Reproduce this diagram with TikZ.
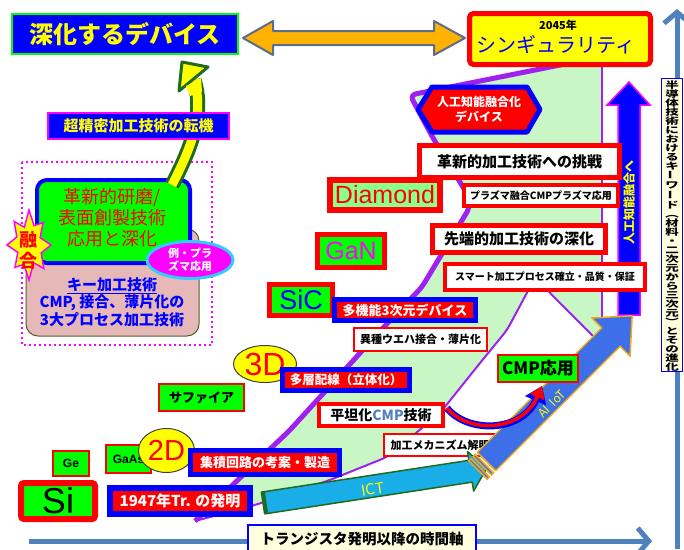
\documentclass[tikz,border=0pt]{standalone}
\usepackage{fontspec}
\usepackage{graphicx}
\setmainfont{Noto Sans CJK JP}
\newfontfamily\arialf{Liberation Sans}
\usetikzlibrary{arrows.meta,shapes.geometric}
\definecolor{pblue}{HTML}{0000FF}
\definecolor{pred}{HTML}{FF0000}
\definecolor{plime}{HTML}{00FF00}
\definecolor{pyellow}{HTML}{FFFF00}
\definecolor{bandgreen}{HTML}{C8F7C5}
\definecolor{bandpurple}{HTML}{A020F0}
\definecolor{axisblue}{HTML}{4F81BD}
\definecolor{orangearr}{HTML}{FFB300}
\definecolor{slate}{HTML}{5A6E8C}
\definecolor{ictcyan}{HTML}{1AAEE8}
\definecolor{dkgreen}{HTML}{1E6B1E}
\definecolor{aiblue}{HTML}{3D6FE8}
\definecolor{aiorange}{HTML}{F2A81D}
\definecolor{pinkbox}{HTML}{E6B9B8}
\definecolor{olivebd}{HTML}{4F6228}
\definecolor{cyanb}{HTML}{33CCFF}
\definecolor{lightyel}{HTML}{FFFFE0}
\definecolor{diamondgreen}{HTML}{8CFF8C}
\definecolor{pmag}{HTML}{FF00FF}
\tikzset{
  lbl/.style={inner sep=0pt, align=center},
  fsz/.style={font=\fontsize{#1}{#1}\selectfont\bfseries},
  rw/.style={draw=pred, fill=white, inner sep=0pt, align=center, text=black},
  br/.style={draw=pblue, fill=pred, inner sep=0pt, align=center, text=white},
  rg/.style={draw=pred, fill=plime, inner sep=0pt, align=center, text=black},
  axisline/.style={axisblue, line width=5pt, -{Straight Barb[length=11pt,width=26pt]}},
  ellyel/.style={ellipse, draw=black!75, fill=pyellow, line width=1pt, inner sep=0pt, text=pred}
}
\begin{document}
\begin{tikzpicture}[x=1pt,y=-1pt]
\useasboundingbox (0,0) rectangle (684,549);
\fill[white] (0,0) rectangle (684,549);

% ---- green band ----
\fill[bandgreen, rounded corners=6pt] (195,521) -- (290,430) -- (381,330) -- (422,287) -- (470,207) -- (466,192) -- (433,138) -- (410,95) -- (600,57) -- (602,57) -- (602,338) -- (598,341) -- (547,290) -- (540,268) -- (530,287) -- (507,330) -- (480,363) -- (440,413) -- (387,457) -- (330,480) -- (255,505) -- cycle;
\draw[bandpurple, line width=5pt, line join=round, rounded corners=6pt] (195,521) -- (290,430) -- (381,330) -- (422,287) -- (470,207) -- (466,192) -- (433,138) -- (410,95) -- (600,57);
\draw[bandpurple, line width=1.5pt] (602,57) -- (602,338);
\draw[bandpurple, line width=2pt, rounded corners=6pt] (598,341) -- (547,290) -- (540,268) -- (530,287) -- (507,330) -- (480,363) -- (440,413) -- (387,457) -- (330,480) -- (255,505) -- (195,521);

% ---- axes ----
\coordinate (hx0) at (29,541); \coordinate (hx1) at (652,541);
\draw[axisline] (hx0) -- (hx1);
\coordinate (vy0) at (677,549); \coordinate (vy1) at (677,9);
\draw[axisline] (vy0) -- (vy1);

% ---- top ----
\node[draw=plime, fill=pblue, line width=2.5pt, minimum width=226pt, minimum height=40pt, inner sep=0pt, text=pyellow, fsz=24] (deep) at (125,34) {深化するデバイス};
\draw[draw=slate, fill=orangearr, line width=2pt, line join=round] (243,38) -- (273,21) -- (273,31) -- (434,31) -- (434,21) -- (465,38) -- (434,55) -- (434,45) -- (273,45) -- (273,55) -- cycle;
\node[draw=pred, fill=pyellow, line width=5pt, rounded corners=4pt, minimum width=181pt, minimum height=51pt] (sing) at (560,39) {};
\node[lbl, fsz=11] (y2045) at (558,25) {2045年};
\node[lbl, text=pblue, font=\fontsize{20}{20}\selectfont] (singt) at (556,45) {シンギュラリティ};

% ---- left cluster ----
\draw[pmag, line width=2pt, dash pattern=on 2pt off 3pt] (22,162) rectangle (212,345);
\node[draw=olivebd, fill=pinkbox, line width=1pt, rounded corners=12pt, minimum width=173pt, minimum height=107pt] (pink) at (112.5,282.5) {};
\node[lbl, text=pblue, font=\fontsize{15}{17.5}\selectfont\bfseries] (keytxt) at (112,302) {\underline{キー加工技術}\\CMP, 接合、薄片化の\\3大プロセス加工技術};
\node[draw=pblue, fill=plime, line width=4pt, rounded corners=10pt, minimum width=153pt, minimum height=83pt] (grn) at (113.5,221.5) {};
\node[lbl, text=pred, font=\fontsize{18}{21}\selectfont] (grntxt) at (112,218) {革新的研磨/\\表面創製技術\\応用と深化};
\node[ellipse, draw=cyanb, fill=pmag, line width=3pt, minimum width=86pt, minimum height=37pt, inner sep=0pt, align=center, text=white, font=\fontsize{11}{13}\selectfont\bfseries] (plas) at (190,260) {例・プラ\\ズマ応用};
\draw[draw=pmag, fill=pyellow, line width=1.5pt] (51,245) \foreach \a/\r in {22.5/0.6,45/0.95,67.5/0.55,90/1,112.5/0.6,135/0.9,157.5/0.55,180/1,202.5/0.6,225/0.95,247.5/0.55,270/1,292.5/0.6,315/0.9,337.5/0.55} { -- ({29+22*\r*cos(\a)},{245+35*\r*sin(\a)}) } -- cycle;
\node[lbl, text=pred, font=\fontsize{18}{21}\selectfont\bfseries] (yugo) at (28,250) {融\\合};

% yellow curved arrow
\coordinate (ya0) at (172,185); \coordinate (ya1) at (194,80);
\draw[dkgreen, line width=15pt] (ya0) .. controls (190,150) and (205,115) .. (ya1);
\draw[pyellow, line width=9pt] (ya0) .. controls (190,150) and (205,115) .. (ya1);
\draw[draw=dkgreen, fill=pyellow, line width=3pt, line join=round] (182,62) -- (208,67) -- (179,91) -- cycle;
\fill[pyellow] (186,86) -- (201,78) -- (202,92) -- (190,96) -- cycle;
\node[draw=pmag, fill=pblue, line width=2pt, minimum width=181pt, minimum height=26pt, inner sep=0pt, text=pyellow, fsz=15] (tenki) at (138.5,126) {超精密加工技術の転機};

% ---- vertical blue arrow ----
\draw[draw=pmag, fill=pblue, line width=1.5pt] (629,82) -- (650,105) -- (640,105) -- (640,315) -- (618,315) -- (618,105) -- (607,105) -- cycle;
\node[lbl, text=pyellow, fsz=12, rotate=90] (aiv) at (629,202) {人工知能融合へ};

% ---- hexagon ----
\draw[draw=pblue, fill=pred, line width=5pt, line join=round] (418,109.5) -- (432,87) -- (527,87) -- (540,109.5) -- (527,132) -- (432,132) -- cycle;
\node[lbl, text=white, font=\fontsize{12}{15}\selectfont\bfseries] (hex) at (479,109.5) {人工知能融合化\\デバイス};

% ---- right column boxes ----
\node[rw, line width=5pt, minimum width=200pt, minimum height=32pt, fsz=15] (kakushin) at (519.5,161.5) {革新的加工技術への挑戦};
\node[rw, line width=4pt, minimum width=154pt, minimum height=21pt, fsz=10] (plasma) at (541,195.5) {プラズマ融合CMPプラズマ応用};
\node[draw=pred, fill=diamondgreen, line width=6pt, minimum width=110pt, minimum height=30pt, inner sep=0pt, text=pred, font=\arialf\fontsize{25}{25}\selectfont] (diam) at (385,195) {Diamond};
\node[rw, line width=5pt, minimum width=173pt, minimum height=27pt, fsz=15] (sentan) at (519,239) {先端的加工技術の深化};
\node[rw, line width=4pt, minimum width=200pt, minimum height=26pt, fsz=10] (smart) at (545,277) {スマート加工プロセス確立・品質・保証};
\node[rg, line width=5pt, minimum width=67pt, minimum height=33pt, text=pmag, font=\arialf\fontsize{25}{25}\selectfont] (gan) at (351,251) {GaN};
\node[rg, line width=5pt, minimum width=63pt, minimum height=31pt, text=pblue, font=\arialf\fontsize{27}{27}\selectfont] (sic) at (301,300) {SiC};
\node[br, line width=5pt, minimum width=141pt, minimum height=21pt, fsz=13] (tamino) at (405,310) {多機能3次元デバイス};
\node[rw, line width=2pt, minimum width=133pt, minimum height=23pt, fsz=11] (ishu) at (420.5,339.5) {異種ウエハ接合・薄片化};
\node[ellyel, minimum width=63pt, minimum height=37pt, font=\arialf\fontsize{32}{32}\selectfont] (d3) at (265,364) {3D};
\node[br, line width=5pt, minimum width=127pt, minimum height=21pt, fsz=12.5] (tasou) at (346,380) {多層配線（立体化）};
\node[rg, line width=2pt, minimum width=85pt, minimum height=27pt, fsz=13] (sapph) at (201.5,397.5) {サファイア};
\node[rw, line width=4pt, minimum width=124pt, minimum height=22pt, fsz=14] (heitan) at (381,415) {平坦化\textcolor{axisblue}{CMP}技術};
\node[rw, line width=2pt, minimum width=112pt, minimum height=22pt, fsz=11] (mech) at (440,445) {加工メカニズム解明};

% ---- ICT arrow ----
\begin{scope}[shift={(263,503)}, rotate=8.7]
\draw[draw=dkgreen, fill=ictcyan, line width=1.5pt, line join=round] (0,-11) -- (210,-11) -- (210,-20) -- (226,0) -- (210,20) -- (210,11) -- (0,11) -- cycle;
\draw[dkgreen, line width=3pt] (2,-11) -- (2,11);
\end{scope}
\node[lbl, text=pyellow, font=\fontsize{15}{15}\selectfont, rotate=8.7] (ict) at (373,489) {ICT};

% ---- AI IoT arrow ----
\begin{scope}[shift={(478,470)}, rotate=45]
\draw[draw=aiorange, fill=aiblue, line width=1.5pt] (0,-13) rectangle (3,13);
\draw[draw=aiorange, fill=aiblue, line width=1.5pt] (6,-13) rectangle (9,13);
\draw[draw=aiorange, fill=aiblue, line width=1.5pt, line join=round] (12,-13) -- (188,-13) -- (188,-27) -- (218,0) -- (188,27) -- (188,13) -- (12,13) -- cycle;
\end{scope}
\node[lbl, text=pyellow, font=\fontsize{12}{12}\selectfont, rotate=45] (aiiot) at (552,404) {AI \ IoT};

% curved arrow heitan -> cmpo
\coordinate (ca0) at (447,408); \coordinate (ca1) at (542,386);
\draw[pblue, line width=7pt, -{Triangle[length=16pt,width=22pt]}] (ca0) .. controls (468,434) and (522,432) .. (ca1);
\draw[pred, line width=3.5pt, -{Triangle[length=12pt,width=15pt]}] (ca0) .. controls (468,434) and (522,432) .. (ca1);
\node[rg, line width=2pt, minimum width=80pt, minimum height=27pt, fsz=17] (cmpo) at (538,368.5) {CMP応用};

% ---- bottom-left ----
\node[rg, line width=2pt, minimum width=36pt, minimum height=25pt, font=\arialf\fontsize{12}{12}\selectfont\bfseries] (ge) at (71,463.5) {Ge};
\node[rg, line width=2pt, minimum width=45pt, minimum height=28pt, font=\arialf\fontsize{12}{12}\selectfont\bfseries] (gaas) at (128.5,459) {GaAs};
\node[ellyel, minimum width=56pt, minimum height=44pt, font=\arialf\fontsize{29}{29}\selectfont] (d2) at (166.5,450.5) {2D};
\node[br, line width=5pt, minimum width=149pt, minimum height=24pt, fsz=13] (shuseki) at (265,462.5) {集積回路の考案・製造};
\node[rg, line width=6pt, rounded corners=3pt, minimum width=74pt, minimum height=36pt, font=\arialf\fontsize{36}{36}\selectfont] (si) at (58,501) {Si};
\node[br, line width=6pt, minimum width=140pt, minimum height=26pt, fsz=15] (tr) at (180,501) {1947年Tr. の発明};

% ---- bottom label ----
\node[draw=pblue, fill=lightyel, line width=1.5pt, minimum width=228pt, minimum height=28pt, inner sep=0pt, fsz=14.5] (timeax) at (362,539) {トランジスタ発明以降の時間軸};

% ---- right vertical keyword box ----
\node[draw=pblue, fill=lightyel, line width=1.2pt, minimum width=21pt, minimum height=293pt, inner sep=0pt] (kwbox) at (672,225) {};
\node[lbl, transform shape, xscale=1.5, font=\fontsize{9}{9}\selectfont\bfseries] (kwtxt) at (672,226) {半\\導\\体\\技\\術\\に\\お\\け\\る\\キ\\\rotatebox{90}{ー}\\ワ\\\rotatebox{90}{ー}\\ド\\︵\\材\\料\\・\\二\\次\\元\\か\\ら\\三\\次\\元\\︶\\と\\そ\\の\\進\\化};
\end{tikzpicture}
\end{document}
